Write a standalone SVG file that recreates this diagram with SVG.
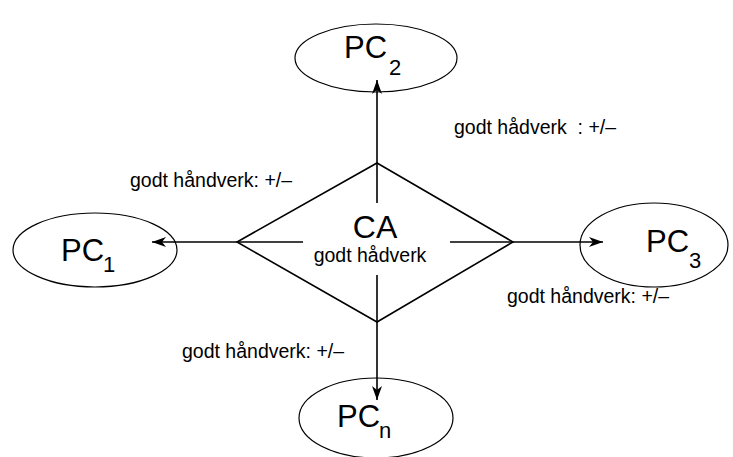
<svg xmlns="http://www.w3.org/2000/svg" width="733" height="457" viewBox="0 0 733 457">
<style>
  text { font-family: "Liberation Sans", Arial, sans-serif; fill: #000; }
  .pc { font-size: 31px; }
  .sub { font-size: 22px; }
  .lbl { font-size: 19.5px; white-space: pre; }
  .ca { font-size: 32px; }
  .node { fill: #fff; stroke: #000; stroke-width: 1.2; }
  .edge { stroke: #000; stroke-width: 1.6; fill: none; }
</style>
<defs>
  <marker id="arr" viewBox="0 0 14 10" refX="14" refY="5" markerWidth="14" markerHeight="10" markerUnits="userSpaceOnUse" orient="auto">
    <path d="M0,0 L14,5 L0,10 L4,5 z" fill="#000"/>
  </marker>
</defs>
<rect width="733" height="457" fill="#fff"/>

<g id="pc2">
  <ellipse class="node" cx="376" cy="58" rx="81" ry="34"/>
  <text class="pc" x="344" y="58">PC<tspan class="sub" x="389" y="75">2</tspan></text>
</g>
<g id="pc1">
  <ellipse class="node" cx="95" cy="250" rx="82" ry="37"/>
  <text class="pc" x="61" y="261">PC<tspan class="sub" x="103" y="272">1</tspan></text>
</g>
<g id="pc3">
  <ellipse class="node" cx="654" cy="245" rx="74" ry="42"/>
  <text class="pc" x="646" y="252">PC<tspan class="sub" x="689" y="268">3</tspan></text>
</g>
<g id="pcn">
  <ellipse class="node" cx="376" cy="418" rx="77" ry="40"/>
  <text class="pc" x="337" y="427">PC<tspan class="sub" x="379" y="438">n</tspan></text>
</g>
<g id="ca">
  <polygon class="node" points="377,163 513,242 377,322 237,242" style="stroke-width:1.6"/>
  <text class="ca" x="375" y="238" text-anchor="middle">CA</text>
  <text class="lbl" x="370" y="262" text-anchor="middle">godt hådverk</text>
</g>

<g id="connectors">
  <line class="edge" x1="377" y1="203" x2="377" y2="80" marker-end="url(#arr)"/>
  <line class="edge" x1="303" y1="242" x2="152" y2="242" marker-end="url(#arr)"/>
  <line class="edge" x1="450" y1="242" x2="603" y2="242" marker-end="url(#arr)"/>
  <line class="edge" x1="377" y1="275" x2="377" y2="400" marker-end="url(#arr)"/>
</g>

<g id="labels">
  <text class="lbl" x="130" y="187">godt håndverk: +/–</text>
  <text class="lbl" x="454" y="134">godt hådverk  : +/–</text>
  <text class="lbl" x="507" y="303">godt håndverk: +/–</text>
  <text class="lbl" x="182" y="358">godt håndverk: +/–</text>
</g>
</svg>
